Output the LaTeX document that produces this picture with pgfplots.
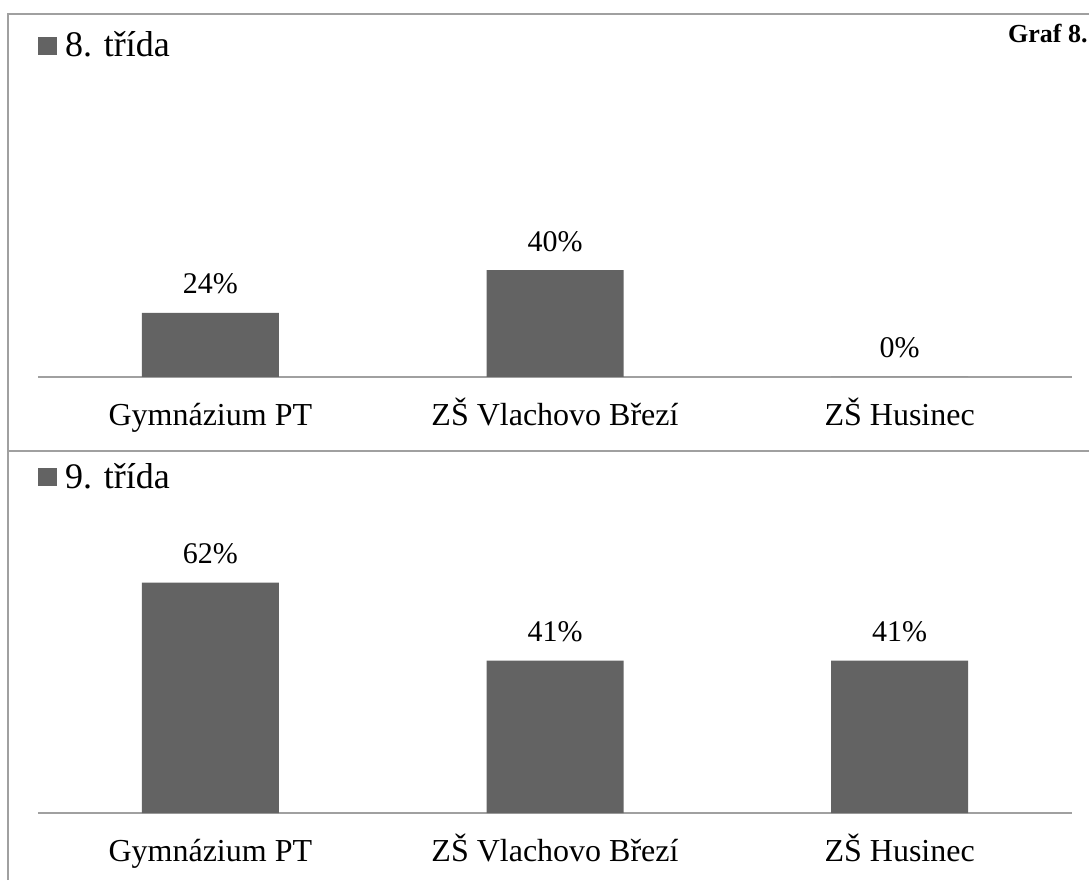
\documentclass[border=0pt]{standalone}
\usepackage{pgfplots}
\pgfplotsset{compat=1.18}
\usepackage{fontspec}
\setmainfont{Liberation Serif}
\definecolor{barc}{HTML}{636363}
\definecolor{linec}{HTML}{A0A0A0}
\pgfplotsset{
 mybar/.style={
  scale only axis, width=517pt, xmin=-0.5, xmax=2.5, ymin=0,
  axis x line*=bottom, axis y line=none,
  x axis line style={draw=linec, line width=1pt, -},
  xtick={0,1,2}, xticklabels={Gymnázium PT, ZŠ Vlachovo Březí, ZŠ Husinec},
  major tick length=0pt,
  /pgf/number format/assume math mode=true,
  xticklabel style={font=\fontsize{16}{19}\selectfont, anchor=base, yshift=-24pt, inner sep=0pt},
  ybar, bar width=68.5pt,
  nodes near coords={\pgfmathprintnumber{\pgfplotspointmeta}\%},
  nodes near coords style={font=\fontsize{15}{18}\selectfont, anchor=base, yshift=9.5pt, inner sep=0pt},
  legend style={draw=none, fill=none, inner sep=0pt, outer sep=0pt, font=\fontsize{18}{21}\selectfont, anchor=south west, legend cell align=left, nodes={inner sep=0pt}, column sep=4pt},
  legend image code/.code={\fill[barc] (0pt,-4.5pt) rectangle (9.5pt,4.5pt);},
  clip=false,
 }
}
\begin{document}
\begin{tikzpicture}
\useasboundingbox (0,0) rectangle (544.5pt,440pt);
\draw[linec, line width=1pt] (4pt,0pt) -- (4pt,433pt) -- (560pt,433pt);
\draw[linec, line width=1pt] (4pt,214.5pt) -- (560pt,214.5pt);
\node[anchor=base east, inner sep=0pt] at (544pt,418.5pt) {\fontsize{13}{16}\selectfont\bfseries Graf 8.};
\begin{axis}[mybar, at={(19pt,251.5pt)}, anchor=south west, height=133.5pt, ymax=100,
  legend style={at={(axis description cs:0,1.188)}}]
\addplot[fill=barc, draw=none] coordinates {(0,24) (1,40) (2,0)};
\addlegendentry{8. třída}
\end{axis}
\begin{axis}[mybar, at={(19pt,33.5pt)}, anchor=south west, height=130pt, ymax=70,
  legend style={at={(axis description cs:0,1.237)}}]
\addplot[fill=barc, draw=none] coordinates {(0,62) (1,41) (2,41)};
\addlegendentry{9. třída}
\end{axis}
\end{tikzpicture}
\end{document}
